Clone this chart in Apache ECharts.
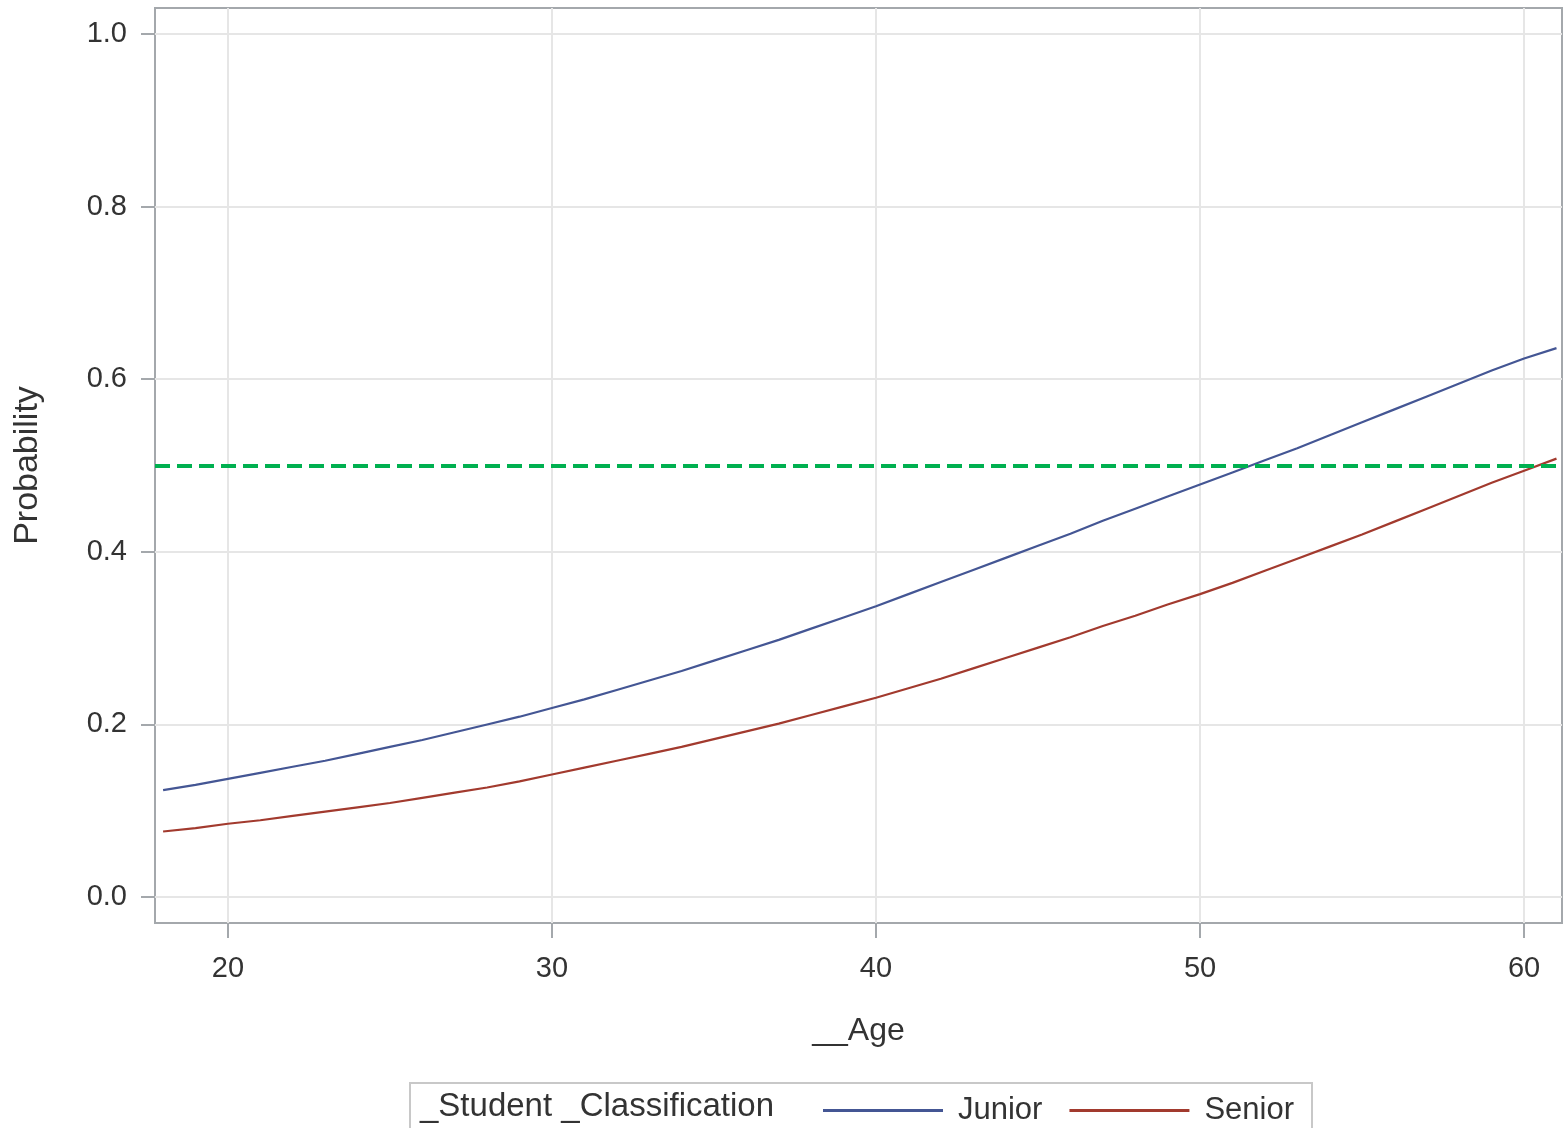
<!DOCTYPE html>
<html>
<head>
<meta charset="utf-8">
<script src="https://cdn.jsdelivr.net/npm/echarts@6/dist/echarts.min.js"></script>
<style>
html,body{margin:0;padding:0;background:#fff;}
#chart{width:1563px;height:1128px;}
</style>
</head>
<body>
<div id="chart"></div>
<script>
const ages = [18,19,20,21,22,23,24,25,26,27,28,29,30,31,32,33,34,35,36,37,38,39,40,41,42,43,44,45,46,47,48,49,50,51,52,53,54,55,56,57,58,59,60,61];
const junior = [0.124,0.130,0.137,0.144,0.151,0.158,0.166,0.174,0.182,0.191,0.200,0.209,0.219,0.229,0.240,0.251,0.262,0.274,0.286,0.298,0.311,0.324,0.337,0.351,0.365,0.379,0.393,0.407,0.421,0.436,0.450,0.464,0.478,0.492,0.506,0.520,0.535,0.550,0.565,0.580,0.595,0.610,0.624,0.636];
const senior = [0.076,0.080,0.085,0.089,0.094,0.099,0.104,0.109,0.115,0.121,0.127,0.134,0.142,0.150,0.158,0.166,0.174,0.183,0.192,0.201,0.211,0.221,0.231,0.242,0.253,0.265,0.277,0.289,0.301,0.314,0.326,0.339,0.351,0.364,0.378,0.392,0.406,0.420,0.435,0.450,0.465,0.480,0.494,0.508];
const threshold = 0.5;
const xTicks = [20,30,40,50,60];
const yTicks = [0,0.2,0.4,0.6,0.8,1.0];
const seriesNames = ['Junior','Senior'];
const legendTitle = '_Student _Classification';
const xTitle = '__Age';
const yTitle = 'Probability';

const FONT = "'Liberation Sans',Arial,sans-serif";
const chart = echarts.init(document.getElementById('chart'));
const option = {
  animation:false,
  backgroundColor:'#fff',
  grid:{left:155,top:8,right:1,bottom:205,show:true,borderColor:'#a4a8ac',borderWidth:2},
  xAxis:{
    type:'value',min:17.75,max:61.17,
    name:xTitle,nameLocation:'middle',nameGap:92,
    nameTextStyle:{fontFamily:FONT,fontSize:32,color:'#333'},
    axisLine:{show:false,onZero:false},
    axisTick:{show:true,inside:false,length:15,customValues:xTicks,lineStyle:{color:'#a4a8ac',width:2}},
    axisLabel:{customValues:xTicks,margin:31,fontFamily:FONT,fontSize:29,color:'#333'},
    splitLine:{show:true,lineStyle:{color:'#e6e6e6',width:2}}
  },
  yAxis:{
    type:'value',min:-0.03,max:1.03,
    name:yTitle,nameLocation:'middle',nameGap:110,
    nameTextStyle:{fontFamily:FONT,fontSize:34,color:'#333'},
    axisLine:{show:false,onZero:false},
    axisTick:{show:true,inside:false,length:14,customValues:yTicks,lineStyle:{color:'#a4a8ac',width:2}},
    axisLabel:{customValues:yTicks,margin:28,fontFamily:FONT,fontSize:29,color:'#333',formatter:v=>v.toFixed(1)},
    splitLine:{show:true,lineStyle:{color:'#e6e6e6',width:2}}
  },
  legend:{
    left:818,top:1090,
    itemWidth:120,itemHeight:3,itemGap:27,icon:'rect',
    textStyle:{fontFamily:FONT,fontSize:31,color:'#333',padding:[0,0,0,10]},
    data:seriesNames
  },
  graphic:[
    {type:'rect',shape:{x:410,y:1083,width:902,height:60},style:{fill:'none',stroke:'#c8c8c8',lineWidth:2},silent:true},
    {type:'text',left:420,top:1090,style:{text:legendTitle,font:"33px 'Liberation Sans',Arial,sans-serif",fill:'#333'}}
  ],
  series:[
    {name:seriesNames[0],type:'line',symbol:'none',smooth:false,color:'#445694',lineStyle:{width:2.2,color:'#445694'},
     data:ages.map((a,i)=>[a,junior[i]]),
     markLine:{silent:true,symbol:'none',label:{show:false},lineStyle:{color:'#00B050',width:4,type:[15,7]},data:[{yAxis:threshold}]}},
    {name:seriesNames[1],type:'line',symbol:'none',smooth:false,color:'#A23A2E',lineStyle:{width:2.2,color:'#A23A2E'},
     data:ages.map((a,i)=>[a,senior[i]])}
  ]
};
chart.setOption(option);
</script>
</body>
</html>
